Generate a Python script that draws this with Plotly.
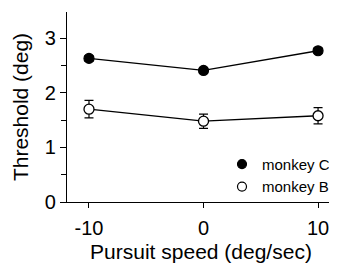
import plotly.graph_objects as go

speeds = [-10, 0, 10]
monkey_c = [2.63, 2.41, 2.77]
monkey_c_err = [0.05, 0.05, 0.05]
monkey_b = [1.70, 1.48, 1.58]
monkey_b_err = [0.16, 0.13, 0.15]

FONT = "Liberation Sans, Arial, Helvetica, sans-serif"

fig = go.Figure()
fig.add_trace(go.Scatter(
    x=speeds, y=monkey_c, mode="lines+markers", showlegend=False,
    line=dict(color="black", width=1.3),
    marker=dict(symbol="circle", size=10, color="black", line=dict(color="black", width=1.2)),
    error_y=dict(type="data", array=monkey_c_err, color="black", thickness=1.2, width=4.5),
))
fig.add_trace(go.Scatter(
    x=speeds, y=monkey_b, mode="lines+markers", showlegend=False,
    line=dict(color="black", width=1.3),
    marker=dict(symbol="circle", size=10, color="white", line=dict(color="black", width=1.3)),
    error_y=dict(type="data", array=monkey_b_err, color="black", thickness=1.2, width=4.5),
))
# legend entries (markers only)
fig.add_trace(go.Scatter(
    x=[None], y=[None], mode="markers", name="monkey C",
    marker=dict(symbol="circle", size=9, color="black", line=dict(color="black", width=1.2)),
))
fig.add_trace(go.Scatter(
    x=[None], y=[None], mode="markers", name="monkey B",
    marker=dict(symbol="circle", size=9, color="white", line=dict(color="black", width=1.2)),
))

# the page body has an 8px default margin; size the figure to fit the window
fig.update_layout(
    width=329, height=255,
    margin=dict(l=59, r=2, t=4, b=61, autoexpand=False),
    paper_bgcolor="white", plot_bgcolor="white",
    font=dict(family=FONT, color="black", size=20),
    legend=dict(x=1.0, y=0.285, xanchor="right", yanchor="top",
                font=dict(size=15, family=FONT), bgcolor="rgba(0,0,0,0)",
                tracegroupgap=0, itemwidth=30, borderwidth=0),
)
fig.update_xaxes(
    range=[-11.92, 11.48], tickvals=speeds, ticktext=["-10", "0", "10"],
    showline=True, linecolor="black", linewidth=1.3,
    ticks="outside", ticklen=5, tickwidth=1.2, tickcolor="black",
    ticklabelstandoff=3,
    showgrid=False, zeroline=False, automargin=False,
    tickfont=dict(size=20),
    title=dict(text="Pursuit speed (deg/sec)", font=dict(size=21), standoff=7),
)
fig.update_yaxes(
    range=[0, 3.48], tickvals=[0, 1, 2, 3],
    showline=True, linecolor="black", linewidth=1.3,
    ticks="outside", ticklen=6, tickwidth=1.2, tickcolor="black",
    minor=dict(tickvals=[0.5, 1.5, 2.5], ticks="outside", ticklen=5, tickwidth=1.2, tickcolor="black", showgrid=False),
    showgrid=False, zeroline=False, automargin=False,
    tickfont=dict(size=20),
    title=dict(text="Threshold (deg)", font=dict(size=21), standoff=10),
)

fig.write_html("out.html")
